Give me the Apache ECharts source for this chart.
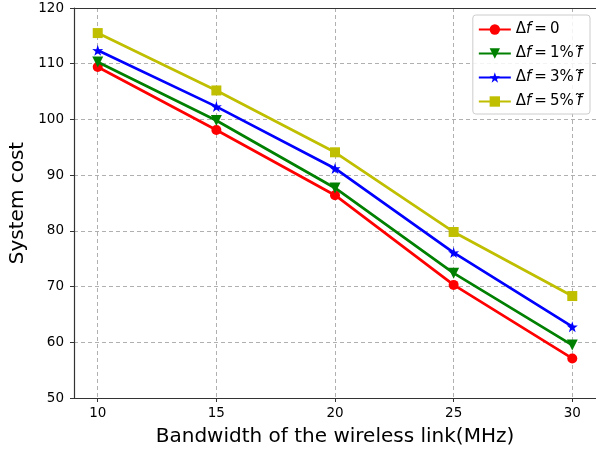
<!DOCTYPE html>
<html><head><meta charset="utf-8">
<script src="https://cdn.jsdelivr.net/npm/echarts@6/dist/echarts.min.js"></script>
<style>html,body{margin:0;padding:0;background:#fff}#c{width:596px;height:453px}</style>
</head><body><div id="c"></div>
<script>
const bandwidth = [10, 15, 20, 25, 30];
const seriesNames = ['Δf\u2009=\u20090', 'Δf\u2009=\u20091%\u2009f̃', 'Δf\u2009=\u20093%\u2009f̃', 'Δf\u2009=\u20095%\u2009f̃'];
const cost0 = [109.4, 98.1, 86.4, 70.3, 57.1];
const cost1 = [110.3, 99.8, 87.7, 72.4, 59.5];
const cost3 = [112.4, 102.3, 91.2, 76.1, 62.8];
const cost5 = [115.5, 105.2, 94.1, 79.8, 68.3];
const yTicks = [50, 60, 70, 80, 90, 100, 110, 120];

const starPath = 'path://M50,0 L61.8,35.4 L97.6,34.5 L69.1,57.3 L79.4,90.5 L50,70 L20.6,90.5 L30.9,57.3 L2.4,34.5 L38.2,35.4 Z';
const colors = ['#ff0000', '#008000', '#0000ff', '#bfbf00'];
const symbols = ['circle', 'triangle', starPath, 'rect'];
const sizes = [10, 11, 11, 10];
const rot = [0, 180, 0, 0];
const data = [cost0, cost1, cost3, cost5];

const series = data.map((d, i) => ({
  name: seriesNames[i],
  type: 'line',
  data: d.map((v, k) => [bandwidth[k], v]),
  symbol: symbols[i],
  symbolSize: sizes[i],
  symbolRotate: rot[i],
  showAllSymbol: true,
  lineStyle: { color: colors[i], width: 2.7 },
  itemStyle: { color: colors[i] },
  z: 3 + i
}));

function fmt(name) {
  const parts = name.split('f');
  let out = '';
  parts.forEach((p, idx) => {
    out += p ? '{n|' + p + '}' : '';
    if (idx < parts.length - 1) out += '{i|f}';
  });
  return out;
}

const axisColor = '#333333';
const chart = echarts.init(document.getElementById('c'), null, { renderer: 'canvas' });
chart.setOption({
  animation: false,
  color: colors,
  grid: { left: 74, right: 0, top: 8, bottom: 55, containLabel: false, outerBoundsMode: 'none' },
  xAxis: [{
    type: 'value', min: 9, max: 31, interval: 1,
    name: 'Bandwidth of the wireless link(MHz)',
    nameLocation: 'middle', nameGap: 29,
    nameTextStyle: { fontFamily: 'DejaVu Sans', fontSize: 20, color: '#000' },
    axisLine: { show: true, onZero: false, lineStyle: { color: axisColor, width: 1.2 } },
    axisTick: { show: true, customValues: bandwidth, length: 4, lineStyle: { color: axisColor } },
    axisLabel: { customValues: bandwidth, fontFamily: 'DejaVu Sans', fontSize: 13.5, color: '#000', margin: 8 },
    splitLine: { show: true, lineStyle: { color: '#b0b0b0', type: [4, 3], width: 1 } }
  }, {
    type: 'value', min: 9, max: 31, position: 'top',
    axisLine: { show: true, onZero: false, lineStyle: { color: axisColor, width: 1.2 } },
    axisTick: { show: false }, axisLabel: { show: false }, splitLine: { show: false }
  }],
  yAxis: {
    type: 'value', min: 50, max: 120, interval: 10,
    name: 'System cost',
    nameLocation: 'middle', nameGap: 46,
    nameTextStyle: { fontFamily: 'DejaVu Sans', fontSize: 20, color: '#000' },
    axisLine: { show: true, lineStyle: { color: axisColor, width: 1.2 } },
    axisTick: { show: true, length: 4, lineStyle: { color: axisColor } },
    axisLabel: { fontFamily: 'DejaVu Sans', fontSize: 13.5, color: '#000', margin: 10,
      formatter: v => yTicks.includes(v) ? String(v) : '' },
    splitLine: { show: true, lineStyle: { color: '#b0b0b0', type: [4, 3], width: 1 } }
  },
  legend: {
    right: 6, top: 15, orient: 'vertical',
    padding: [7, 8, 5, 5],
    itemGap: 9, itemWidth: 32, itemHeight: 13,
    backgroundColor: 'rgba(255,255,255,0.85)',
    borderColor: '#cccccc', borderWidth: 1, borderRadius: 3,
    formatter: fmt,
    textStyle: {
      fontFamily: 'DejaVu Sans', fontSize: 15, color: '#000',
      rich: {
        n: { fontFamily: 'DejaVu Sans', fontSize: 15, color: '#000' },
        i: { fontFamily: 'DejaVu Sans', fontStyle: 'italic', fontSize: 15, color: '#000' }
      }
    },
    data: seriesNames
  },
  series: series
});
</script></body></html>
